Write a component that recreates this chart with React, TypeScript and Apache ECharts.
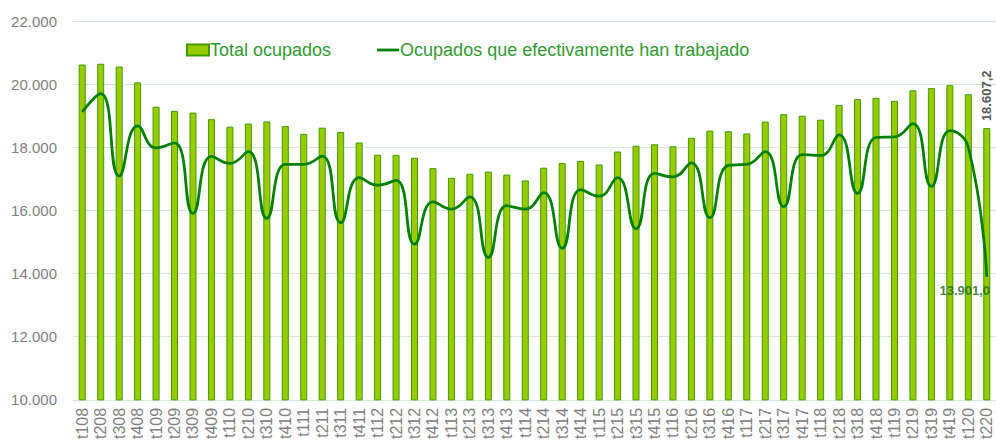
import React, { useEffect, useRef } from "react";
import * as echarts from "echarts";

const quarters: string[] = [
  "t108","t208","t308","t408","t109","t209","t309","t409","t110","t210",
  "t310","t410","t111","t211","t311","t411","t112","t212","t312","t412",
  "t113","t213","t313","t413","t114","t214","t314","t414","t115","t215",
  "t315","t415","t116","t216","t316","t416","t117","t217","t317","t417",
  "t118","t218","t318","t418","t119","t219","t319","t419","t120","t220",
];

const totalOcupados: number[] = [
  20620.0, 20646.9, 20556.4, 20055.3, 19284.4, 19154.2, 19098.4, 18890.4, 18652.9, 18751.1,
  18819.0, 18674.9, 18426.2, 18622.0, 18484.5, 18153.0, 17765.1, 17758.5, 17667.7, 17339.4,
  17030.2, 17160.6, 17230.0, 17135.2, 16950.6, 17353.0, 17504.0, 17569.1, 17454.8, 17866.5,
  18048.7, 18094.2, 18029.6, 18301.0, 18527.5, 18508.1, 18438.3, 18813.3, 19049.2, 18998.4,
  18874.2, 19344.1, 19528.0, 19564.6, 19471.1, 19804.9, 19874.3, 19966.9, 19681.3, 18607.2,
];

const ocupadosTrabajado: number[] = [
  19120, 19700, 17090, 18680, 17980, 18140, 15906, 17710, 17490, 17860,
  15750, 17460, 17460, 17720, 15610, 17040, 16800, 16950, 14930, 16270,
  16040, 16430, 14515, 16150, 16040, 16560, 14800, 16660, 16450, 17040,
  15420, 17170, 17060, 17510, 15770, 17430, 17460, 17860, 16120, 17770,
  17740, 18390, 16540, 18310, 18330, 18750, 16765, 18525, 18000, 13901.0,
];

const yTicks = { min: 10000, max: 22000, interval: 2000 };

const FONT = "'Liberation Sans', Arial, sans-serif";

function fmtMiles(v: number): string {
  const s = Math.round(v).toString();
  return s.replace(/\B(?=(\d{3})+(?!\d))/g, ".");
}
function fmtDec(v: number): string {
  const [i, d] = v.toFixed(1).split(".");
  return i.replace(/\B(?=(\d{3})+(?!\d))/g, ".") + "," + d;
}

export default function App() {
  const ref = useRef<HTMLDivElement>(null);
  useEffect(() => {
    if (!ref.current) return;
    const chart = echarts.init(ref.current, undefined, { renderer: "svg" });
    const last = totalOcupados.length - 1;
    const barData = totalOcupados.map((v, i) =>
      i === last
        ? {
            value: v,
            label: {
              show: true,
              position: "top",
              rotate: 90,
              align: "left",
              verticalAlign: "middle",
              distance: 7,
              formatter: () => fmtDec(v),
              fontFamily: FONT,
              fontWeight: "bold",
              fontSize: 13,
              color: "#595959",
            },
          }
        : v
    );
    chart.setOption({
      animation: false,
      textStyle: { fontFamily: FONT },
      grid: { left: 73, top: 21, width: 924, height: 382, containLabel: false },
      legend: {
        data: [
          { name: "Total ocupados", icon: "rect" },
          {
            name: "Ocupados que efectivamente han trabajado",
            icon: "path://M0,0H22V2.8H0Z",
          },
        ],
        left: 181,
        top: 36,
        itemWidth: 22,
        itemHeight: 11,
        itemGap: 46,
        symbolKeepAspect: true,
        textStyle: {
          fontFamily: FONT,
          fontSize: 18,
          color: "#339933",
          padding: [0, 0, 0, -4],
        },
      },
      xAxis: {
        type: "category",
        data: quarters,
        axisLine: { show: true, lineStyle: { color: "#d5e6d5", width: 1 } },
        axisTick: { show: false },
        axisLabel: {
          rotate: 90,
          interval: 0,
          margin: 8,
          fontSize: 16,
          color: "#808080",
          fontFamily: FONT,
        },
      },
      yAxis: {
        type: "value",
        min: yTicks.min,
        max: yTicks.max,
        interval: yTicks.interval,
        axisLine: { show: false },
        axisTick: { show: false },
        splitLine: { lineStyle: { color: "#d5e6d5", width: 1 } },
        axisLabel: {
          margin: 16,
          fontSize: 15,
          color: "#7f7f7f",
          fontFamily: FONT,
          formatter: (v: number) => fmtMiles(v),
        },
      },
      series: [
        {
          name: "Total ocupados",
          type: "bar",
          data: barData,
          barWidth: 7,
          itemStyle: { color: "#99cc00", borderColor: "#3f9a00", borderWidth: 1 },
          z: 2,
        },
        {
          name: "Ocupados que efectivamente han trabajado",
          type: "line",
          data: ocupadosTrabajado,
          smooth: 0.5,
          symbol: "none",
          lineStyle: { color: "#008000", width: 2.75 },
          itemStyle: { color: "#008000" },
          z: 3,
        },
        {
          name: "endLabel",
          type: "scatter",
          data: [[last, ocupadosTrabajado[last]]],
          symbolSize: 1,
          itemStyle: { color: "rgba(0,0,0,0)" },
          silent: true,
          label: {
            show: true,
            position: "bottom",
            distance: 7,
            offset: [-22, 0],
            formatter: () => fmtDec(ocupadosTrabajado[last]),
            fontFamily: FONT,
            fontWeight: "bold",
            fontSize: 13,
            color: "#1a661a",
          },
          z: 4,
        },
      ],
    });
    return () => chart.dispose();
  }, []);
  return (
    <div
      ref={ref}
      style={{ position: "absolute", left: 0, top: 0, width: 996, height: 442 }}
    />
  );
}
